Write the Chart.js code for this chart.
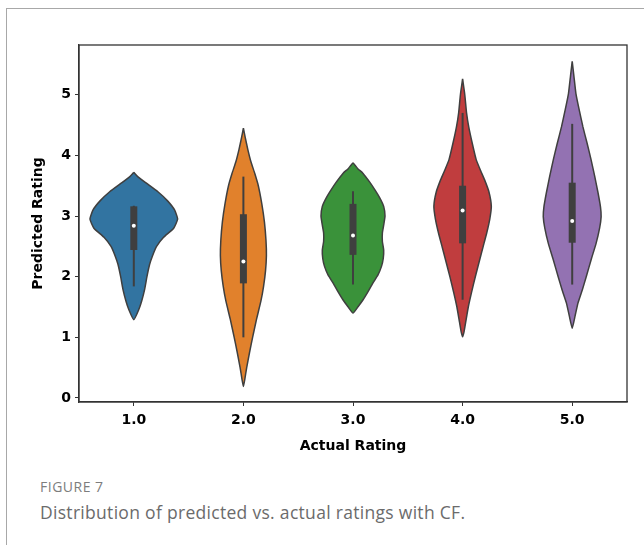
<!DOCTYPE html>
<html>
<head>
<meta charset="utf-8">
<script src="https://cdn.jsdelivr.net/npm/chart.js@4.4.1/dist/chart.umd.min.js"></script>
<style>
  body { margin: 0; width: 644px; height: 545px; overflow: hidden; background: #fff; position: relative; }
  #frame { position: absolute; left: 6px; top: 8px; width: 700px; height: 600px; border: 1.5px solid #a8a8a8; }
  #chart { position: absolute; left: 0; top: 0; }
  .cap { position: absolute; left: 40px; font-family: "Open Sans", sans-serif; white-space: nowrap; }
</style>
</head>
<body>
<div id="frame"></div>
<canvas id="chart" width="644" height="470"></canvas>
<div class="cap" style="top:477px; font-size:14px; letter-spacing:0.5px; color:#7d7d7d;">FIGURE 7</div>
<div class="cap" style="top:500px; font-size:17.5px; letter-spacing:0.3px; color:#6b6b6b;">Distribution of predicted vs. actual ratings with CF.</div>
<script>
const categories = ['1.0', '2.0', '3.0', '4.0', '5.0'];
const colors = ['#3274a1', '#e1812c', '#3a923a', '#c03d3e', '#9372b2'];
const yTicks = [0, 1, 2, 3, 4, 5];

// density profiles: predicted rating level -> relative width
const levels1 = [3.72, 3.65, 3.55, 3.4, 3.25, 3.1, 2.95, 2.8, 2.65, 2.5, 2.35, 2.2, 2.0, 1.8, 1.6, 1.45, 1.29];
const density1 = [0, 0.09, 0.27, 0.55, 0.77, 0.93, 1.0, 0.91, 0.68, 0.52, 0.43, 0.36, 0.30, 0.25, 0.18, 0.11, 0];

const levels2 = [4.45, 4.3, 4.1, 3.9, 3.7, 3.5, 3.2, 2.9, 2.6, 2.35, 2.1, 1.84, 1.6, 1.3, 1.0, 0.75, 0.5, 0.3, 0.19];
const density2 = [0, 0.04, 0.10, 0.17, 0.26, 0.34, 0.42, 0.48, 0.515, 0.525, 0.505, 0.46, 0.40, 0.30, 0.21, 0.14, 0.075, 0.03, 0];

const levels3 = [3.88, 3.78, 3.71, 3.55, 3.43, 3.3, 3.16, 3.0, 2.85, 2.72, 2.58, 2.44, 2.3, 2.17, 2.03, 1.89, 1.75, 1.62, 1.5, 1.4];
const density3 = [0, 0.11, 0.22, 0.39, 0.50, 0.61, 0.70, 0.73, 0.70, 0.67, 0.67, 0.70, 0.69, 0.65, 0.57, 0.45, 0.34, 0.23, 0.11, 0];

const levels4 = [5.26, 5.0, 4.7, 4.47, 4.2, 3.93, 3.75, 3.6, 3.4, 3.16, 2.95, 2.72, 2.5, 2.28, 2.0, 1.73, 1.5, 1.29, 1.1, 1.01];
const density4 = [0, 0.05, 0.09, 0.14, 0.22, 0.31, 0.41, 0.50, 0.60, 0.655, 0.62, 0.55, 0.47, 0.39, 0.29, 0.20, 0.13, 0.08, 0.035, 0];

const levels5 = [5.55, 5.3, 5.02, 4.75, 4.47, 4.2, 3.93, 3.65, 3.38, 3.15, 2.99, 2.8, 2.55, 2.3, 2.0, 1.78, 1.56, 1.35, 1.15];
const density5 = [0, 0.04, 0.085, 0.16, 0.245, 0.34, 0.43, 0.515, 0.59, 0.645, 0.66, 0.625, 0.545, 0.44, 0.32, 0.23, 0.13, 0.065, 0];

// inner box plot
const whiskerLow  = [1.84, 1.00, 1.87, 1.62, 1.87];
const q1          = [2.44, 1.89, 2.36, 2.55, 2.56];
const medians     = [2.84, 2.25, 2.68, 3.09, 2.92];
const q3          = [3.16, 3.03, 3.20, 3.50, 3.55];
const whiskerHigh = [3.17, 3.65, 3.41, 4.70, 4.52];

const profiles = [
  [levels1, density1], [levels2, density2], [levels3, density3],
  [levels4, density4], [levels5, density5]
];
const halfWidth = 0.4;

function violinPoints(i, levels, density) {
  const right = levels.map((y, k) => ({ x: i + density[k] * halfWidth, y }));
  const left = levels.map((y, k) => ({ x: i - density[k] * halfWidth, y })).reverse();
  return right.concat(left.slice(1));
}

const datasets = [];
profiles.forEach(([lv, dn], i) => {
  datasets.push({
    data: violinPoints(i, lv, dn),
    showLine: true, fill: 'shape', tension: 0.15,
    backgroundColor: colors[i], borderColor: '#3f3f3f', borderWidth: 1.5,
    pointRadius: 0, order: 3
  });
  datasets.push({
    data: [{ x: i, y: whiskerLow[i] }, { x: i, y: whiskerHigh[i] }],
    showLine: true, borderColor: '#3f3f3f', borderWidth: 2, pointRadius: 0, order: 2
  });
  datasets.push({
    data: [{ x: i, y: q1[i] }, { x: i, y: q3[i] }],
    showLine: true, borderColor: '#3f3f3f', borderWidth: 7, borderCapStyle: 'butt', pointRadius: 0, order: 1
  });
});
datasets.push({
  data: medians.map((m, i) => ({ x: i, y: m })),
  showLine: false, pointRadius: 2, pointBackgroundColor: '#ffffff', pointBorderWidth: 0, order: 0
});

const framePlugin = {
  id: 'frame',
  afterDraw(chart) {
    const { ctx, chartArea: a } = chart;
    ctx.save();
    ctx.strokeStyle = '#333';
    ctx.lineWidth = 1.3;
    ctx.strokeRect(a.left, a.top, a.right - a.left, a.bottom - a.top);
    ctx.restore();
  }
};

const tickFont = { family: 'DejaVu Sans', weight: 'bold', size: 14 };
const titleFont = { family: 'DejaVu Sans', weight: 'bold', size: 14 };

new Chart(document.getElementById('chart').getContext('2d'), {
  type: 'scatter',
  data: { datasets },
  options: {
    responsive: false,
    animation: false,
    layout: { padding: { top: 45, right: 17, left: 0, bottom: 0 } },
    plugins: { legend: { display: false }, tooltip: { enabled: false } },
    scales: {
      x: {
        type: 'linear', min: -0.5, max: 4.5,
        afterBuildTicks: s => { s.ticks = categories.map((c, i) => ({ value: i })); },
        afterFit: s => { s.height = 68; },
        grid: { display: true, drawOnChartArea: false, drawTicks: true, tickLength: 4, color: '#333' },
        border: { display: true, color: '#333', width: 1.3 },
        ticks: { color: '#000', font: tickFont, padding: 6, maxRotation: 0, callback: v => categories[v] },
        title: { display: true, text: 'Actual Rating', color: '#000', font: titleFont, padding: { top: 0, bottom: 15 } }
      },
      y: {
        type: 'linear', min: -0.066, max: 5.82,
        afterBuildTicks: s => { s.ticks = yTicks.map(v => ({ value: v })); },
        afterFit: s => { s.width = 79; },
        grid: { display: true, drawOnChartArea: false, drawTicks: true, tickLength: 4, color: '#333' },
        border: { display: true, color: '#333', width: 1.3 },
        ticks: { color: '#000', font: tickFont, padding: 4 },
        title: { display: true, text: 'Predicted Rating', color: '#000', font: titleFont, padding: { top: 30, bottom: 0 } }
      }
    }
  },
  plugins: [framePlugin]
});
</script>
</body>
</html>
